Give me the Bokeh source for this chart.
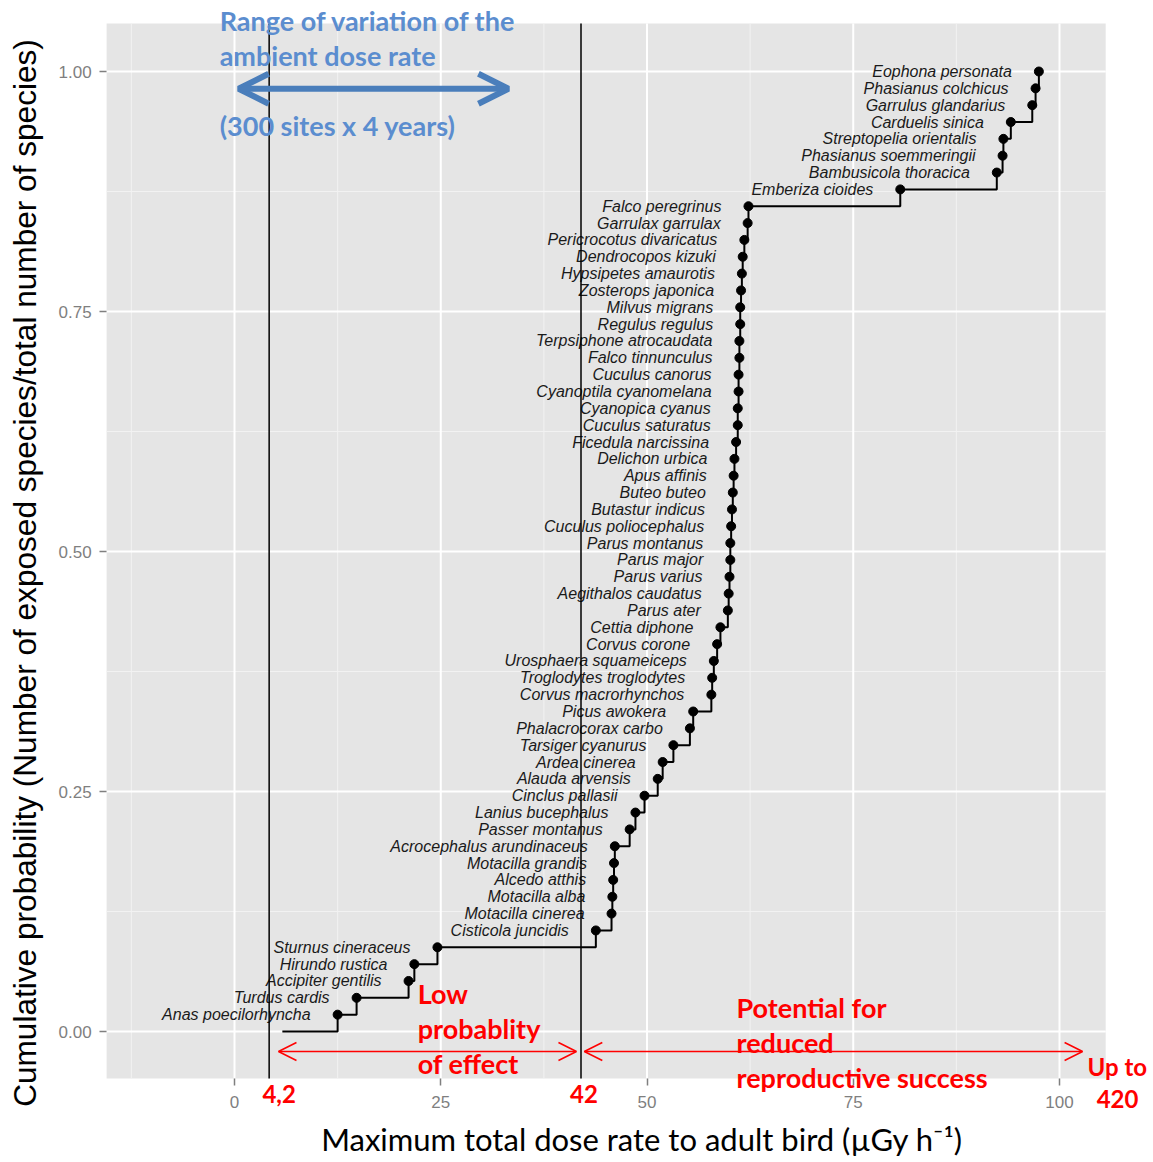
from bokeh.plotting import figure
from bokeh.models import (Range1d, FixedTicker, Label, Arrow, OpenHead,
                          ColumnDataSource, NumeralTickFormatter)
from bokeh.core.properties import value
from bokeh.embed import file_html
from bokeh.resources import INLINE

# ---------------- data ----------------
species = [
    "Anas poecilorhyncha", "Turdus cardis", "Accipiter gentilis", "Hirundo rustica",
    "Sturnus cineraceus", "Cisticola juncidis", "Motacilla cinerea", "Motacilla alba",
    "Alcedo atthis", "Motacilla grandis", "Acrocephalus arundinaceus", "Passer montanus",
    "Lanius bucephalus", "Cinclus pallasii", "Alauda arvensis", "Ardea cinerea",
    "Tarsiger cyanurus", "Phalacrocorax carbo", "Picus awokera", "Corvus macrorhynchos",
    "Troglodytes troglodytes", "Urosphaera squameiceps", "Corvus corone", "Cettia diphone",
    "Parus ater", "Aegithalos caudatus", "Parus varius", "Parus major", "Parus montanus",
    "Cuculus poliocephalus", "Butastur indicus", "Buteo buteo", "Apus affinis",
    "Delichon urbica", "Ficedula narcissina", "Cuculus saturatus", "Cyanopica cyanus",
    "Cyanoptila cyanomelana", "Cuculus canorus", "Falco tinnunculus",
    "Terpsiphone atrocaudata", "Regulus regulus", "Milvus migrans", "Zosterops japonica",
    "Hypsipetes amaurotis", "Dendrocopos kizuki", "Pericrocotus divaricatus",
    "Garrulax garrulax", "Falco peregrinus", "Emberiza cioides", "Bambusicola thoracica",
    "Phasianus soemmeringii", "Streptopelia orientalis", "Carduelis sinica",
    "Garrulus glandarius", "Phasianus colchicus", "Eophona personata",
]
dose = [
    12.5, 14.8, 21.1, 21.8, 24.6, 43.8, 45.7, 45.8, 45.9, 46.0, 46.1, 47.9,
    48.6, 49.7, 51.3, 51.9, 53.2, 55.2, 55.6, 57.8, 57.9, 58.1, 58.5, 58.9,
    59.8, 59.9, 60.0, 60.1, 60.1, 60.2, 60.3, 60.4, 60.5, 60.6, 60.8, 61.0,
    61.0, 61.1, 61.1, 61.2, 61.2, 61.3, 61.3, 61.4, 61.5, 61.6, 61.8, 62.2,
    62.3, 80.7, 92.4, 93.1, 93.2, 94.1, 96.7, 97.1, 97.5,
]
step_start = 5.8           # left end of the cumulative curve at 0
thresholds = [4.2, 42.0]   # benchmark dose rates (vertical lines)
ambient_range = [0.5, 33.2]
x_ticks = [0, 25, 50, 75, 100]
x_minor = [-12.5, 12.5, 37.5, 62.5, 87.5]
y_ticks = [0.0, 0.25, 0.50, 0.75, 1.00]
y_minor = [0.125, 0.375, 0.625, 0.875]

n = len(species)
cum = [(i + 1) / n for i in range(n)]

# ---------------- geometry ----------------
W, H = 1152, 1160
PX_X, X0 = 8.25, 234.0      # px per x unit, px of x = 0
PX_Y, Y0 = 960.0, 1031.0    # px per y unit, px of y = 0
x_lo, x_hi = -X0 / PX_X, (W - X0) / PX_X
y_lo, y_hi = (Y0 - H) / PX_Y, Y0 / PX_Y
panel_x = (-15.5, 105.6)
panel_y = (-0.049, 1.05)

p = figure(width=W, height=H,
           x_range=Range1d(x_lo, x_hi), y_range=Range1d(y_lo, y_hi),
           output_backend="svg", toolbar_location=None,
           min_border_left=0, min_border_right=0, min_border_top=0,
           min_border_bottom=0)
p.background_fill_color = "white"
p.border_fill_color = "white"
p.outline_line_color = None
p.grid.visible = False

# grey panel
p.quad(left=[panel_x[0]], right=[panel_x[1]], bottom=[panel_y[0]], top=[panel_y[1]],
       fill_color="#E5E5E5", line_color=None)
# grid lines (minor, then major)
p.segment(x0=x_minor, x1=x_minor, y0=[panel_y[0]] * len(x_minor),
          y1=[panel_y[1]] * len(x_minor), line_color="#F2F2F2", line_width=1)
p.segment(x0=[panel_x[0]] * len(y_minor), x1=[panel_x[1]] * len(y_minor),
          y0=y_minor, y1=y_minor, line_color="#F2F2F2", line_width=1)
p.segment(x0=x_ticks, x1=x_ticks, y0=[panel_y[0]] * len(x_ticks),
          y1=[panel_y[1]] * len(x_ticks), line_color="white", line_width=2)
p.segment(x0=[panel_x[0]] * len(y_ticks), x1=[panel_x[1]] * len(y_ticks),
          y0=y_ticks, y1=y_ticks, line_color="white", line_width=2)

# axes, fixed to the panel's edges
p.xaxis.ticker = FixedTicker(ticks=x_ticks)
p.yaxis.ticker = FixedTicker(ticks=y_ticks)
p.yaxis.formatter = NumeralTickFormatter(format="0.00")
p.xaxis.fixed_location = panel_y[0]
p.yaxis.fixed_location = panel_x[0]
p.xaxis.bounds = (-12.5, x_hi)
p.yaxis.bounds = (-0.118, 1.0732)

for ax in (p.xaxis, p.yaxis):
    ax.axis_line_color = None
    ax.major_tick_line_color = "#7F7F7F"
    ax.major_tick_line_width = 1.5
    ax.major_tick_out = 7
    ax.major_tick_in = 0
    ax.minor_tick_line_color = None
    ax.major_label_text_color = "#7F7F7F"
    ax.major_label_text_font = "Liberation Sans"
    ax.major_label_text_font_size = "17px"
    ax.axis_label_text_color = "black"
    ax.axis_label_text_font_style = "normal"

p.xaxis.major_label_standoff = 10
p.xaxis.axis_label = "Maximum total dose rate to adult bird (\u00b5Gy h\u207b\u00b9)"
p.xaxis.axis_label_text_font = "Lato"
p.xaxis.axis_label_text_font_size = "31px"
p.xaxis.axis_label_standoff = 9

p.yaxis.major_label_standoff = 8
p.yaxis.axis_label = "Cumulative probability (Number of exposed species/total number of species)"
p.yaxis.axis_label_text_font = "Liberation Sans"
p.yaxis.axis_label_text_font_size = "31.6px"
p.yaxis.axis_label_standoff = 12

# ---------------- marks ----------------
src = ColumnDataSource(dict(x=dose, y=cum, name=species))
p.step([step_start] + dose, [0.0] + cum, mode="after", line_color="black", line_width=2)
p.scatter("x", "y", source=src, size=9, color="black")
p.text("x", "y", text="name", source=src, text_align="right", text_baseline="middle",
       x_offset=-27, text_font=value("Liberation Sans"), text_font_style="italic",
       text_font_size="16px", text_color="#1A1A1A")

p.segment(x0=thresholds, x1=thresholds, y0=[panel_y[0]] * 2, y1=[panel_y[1]] * 2,
          line_color="black", line_width=1.5)

# ---------------- annotations ----------------
blue_txt = "#5B8DCF"
blue_arr = "#4A7EBB"
red = "#FF0000"

def lab(x, y, text, color, size, align="left", font="Lato", style="bold", xo=0):
    p.add_layout(Label(x=x, y=y, text=text, text_color=color, text_font=font,
                       text_font_size=size, text_font_style=style, text_align=align,
                       text_baseline="middle", x_offset=xo))

lab(-1.8, 1.053, "Range of variation  of the", blue_txt, "27px")
lab(-1.8, 1.0167, "ambient dose rate", blue_txt, "27px")
lab(-1.8, 0.944, "(300 sites x 4 years)", blue_txt, "27px")
p.add_layout(Arrow(start=OpenHead(size=30, line_color=blue_arr, line_width=6),
                   end=OpenHead(size=30, line_color=blue_arr, line_width=6),
                   x_start=ambient_range[0], y_start=0.982,
                   x_end=ambient_range[1], y_end=0.982,
                   line_color=blue_arr, line_width=6))

lab(22.2, 0.0396, "Low", red, "27px")
lab(22.2, 0.0031, "probablity", red, "27px")
lab(22.2, -0.0333, "of effect", red, "27px")
lab(60.85, 0.025, "Potential for", red, "27px")
lab(60.85, -0.0115, "reduced", red, "27px")
lab(60.85, -0.0479, "reproductive success", red, "27px")

p.add_layout(Arrow(start=OpenHead(size=18, line_color=red, line_width=1.5),
                   end=OpenHead(size=18, line_color=red, line_width=1.5),
                   x_start=5.33, y_start=-0.0208, x_end=41.45, y_end=-0.0208,
                   line_color=red, line_width=1.5))
p.add_layout(Arrow(start=OpenHead(size=18, line_color=red, line_width=1.5),
                   end=OpenHead(size=18, line_color=red, line_width=1.5),
                   x_start=42.4, y_start=-0.0208, x_end=102.8, y_end=-0.0208,
                   line_color=red, line_width=1.5))

lab(thresholds[0], -0.0646, "4,2", red, "24px", align="center", xo=10)
lab(thresholds[1], -0.0646, "42", red, "24px", align="center", xo=3)
lab(103.4, -0.0365, "Up to", red, "24px")
lab(104.5, -0.0698, "420", red, "24px")

open("out.html", "w").write(file_html(p, INLINE))
